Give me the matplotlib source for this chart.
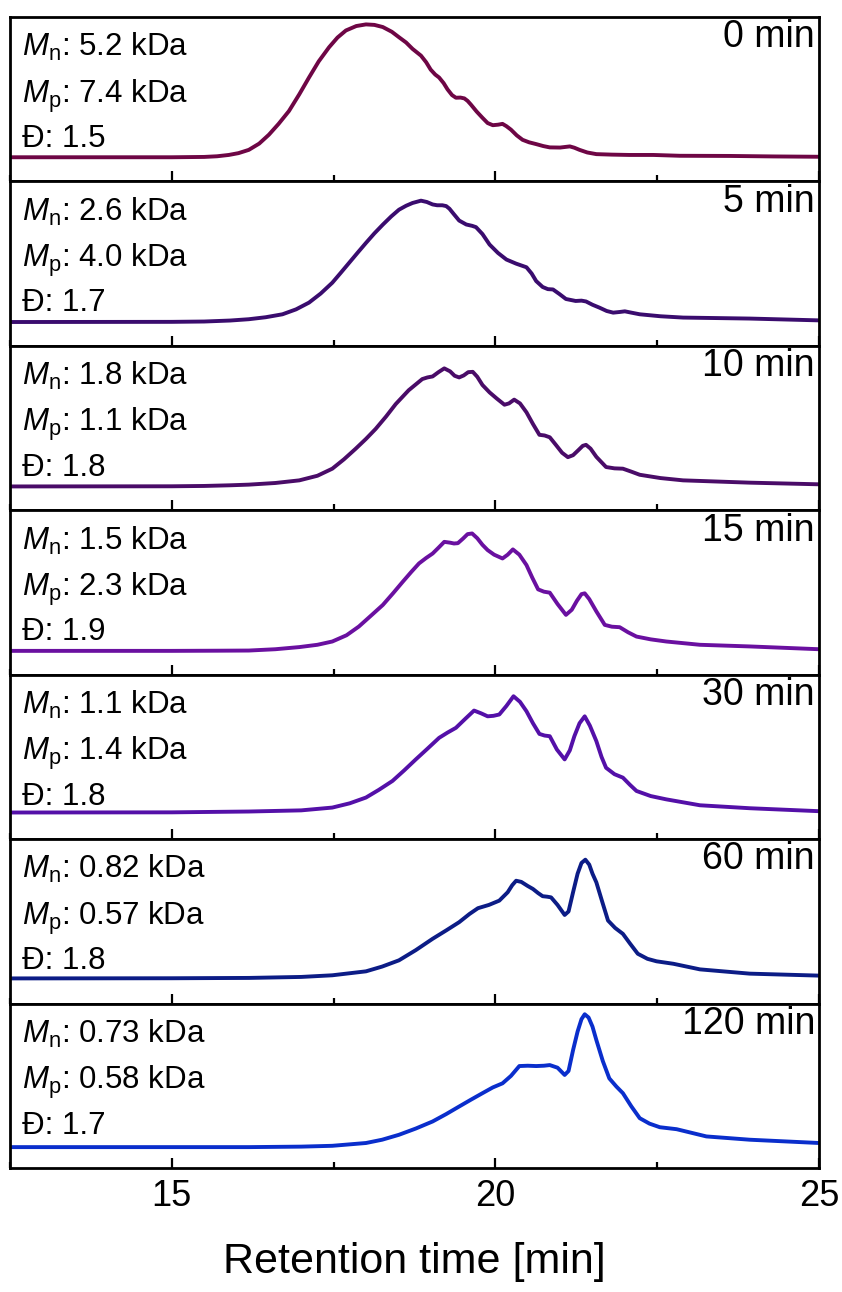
import matplotlib
matplotlib.use("Agg")
import matplotlib.pyplot as plt
from matplotlib.ticker import MultipleLocator

plt.rcParams['font.family'] = ['Liberation Sans', 'DejaVu Sans']
plt.rcParams['mathtext.fontset'] = 'custom'
plt.rcParams['mathtext.rm'] = 'Liberation Sans'
plt.rcParams['mathtext.it'] = 'Liberation Sans:italic'

# ---- data (retention time [min], normalized detector signal) ----
labels = ["0 min", "5 min", "10 min", "15 min", "30 min", "60 min", "120 min"]
mn = ["5.2", "2.6", "1.8", "1.5", "1.1", "0.82", "0.73"]
mp = ["7.4", "4.0", "1.1", "2.3", "1.4", "0.57", "0.58"]
dispersity = ["1.5", "1.7", "1.8", "1.9", "1.8", "1.8", "1.7"]
colors = ["#6E0645", "#3A0C6E", "#4A0C68", "#6A10A0", "#5410A8", "#0C1C86", "#0A2ECC"]

t0 = [12.5, 15.0, 15.5, 15.7, 15.88, 16.03, 16.19, 16.35, 16.50, 16.65, 16.81, 16.97, 17.12, 17.27,
      17.43, 17.56, 17.69, 17.85, 18.00, 18.13, 18.26, 18.40, 18.51, 18.62, 18.72,
      18.85, 18.93, 19.00, 19.07, 19.13, 19.20, 19.26, 19.33, 19.39, 19.46, 19.52, 19.57, 19.62,
      19.71, 19.80, 19.88, 19.96, 20.04, 20.11, 20.17, 20.24, 20.33, 20.42, 20.52,
      20.63, 20.74, 20.84, 21.00, 21.15, 21.22, 21.30, 21.42, 21.56, 21.80, 22.07, 22.44, 22.85,
      23.62, 24.3, 25.0]
s0 = [0.147, 0.147, 0.149, 0.153, 0.161, 0.172, 0.192, 0.230, 0.284, 0.350, 0.428, 0.530, 0.632, 0.730,
      0.816, 0.875, 0.918, 0.945, 0.955, 0.952, 0.939, 0.910, 0.877, 0.845, 0.806,
      0.765, 0.725, 0.680, 0.650, 0.632, 0.598, 0.560, 0.525, 0.509, 0.510, 0.505, 0.490, 0.468,
      0.425, 0.387, 0.355, 0.342, 0.345, 0.350, 0.336, 0.315, 0.280, 0.253, 0.238,
      0.227, 0.215, 0.207, 0.206, 0.213, 0.205, 0.192, 0.176, 0.166, 0.163, 0.161, 0.161, 0.156,
      0.155, 0.152, 0.150]

t5 = [12.5, 15.0, 15.5, 15.9, 16.19, 16.45, 16.71, 16.92, 17.12, 17.30, 17.48, 17.61, 17.74, 17.87,
      18.00, 18.13, 18.26, 18.39, 18.51, 18.62, 18.72, 18.85, 18.94, 19.03,
      19.10, 19.18, 19.24, 19.29, 19.36, 19.44, 19.55, 19.64, 19.70, 19.80, 19.91, 20.04, 20.17,
      20.32, 20.48, 20.56, 20.63, 20.73, 20.81, 20.89, 20.99, 21.09, 21.24, 21.33, 21.40,
      21.50, 21.61, 21.72, 21.82, 21.92, 22.00, 22.10, 22.23, 22.55, 22.90, 23.93, 25.0]
s5 = [0.145, 0.146, 0.148, 0.154, 0.162, 0.174, 0.192, 0.222, 0.263, 0.318, 0.384, 0.444, 0.505, 0.566,
      0.626, 0.684, 0.737, 0.787, 0.828, 0.852, 0.869, 0.883, 0.875, 0.860,
      0.855, 0.855, 0.850, 0.834, 0.800, 0.762, 0.738, 0.730, 0.722, 0.680, 0.616, 0.565, 0.525,
      0.500, 0.478, 0.440, 0.394, 0.358, 0.345, 0.343, 0.315, 0.285, 0.273, 0.275, 0.270,
      0.250, 0.232, 0.212, 0.202, 0.206, 0.210, 0.202, 0.192, 0.180, 0.172, 0.166, 0.155]

t10 = [12.5, 15.0, 15.5, 15.9, 16.19, 16.6, 16.97, 17.25, 17.48, 17.66, 17.84, 18.00, 18.15, 18.31,
       18.46, 18.66, 18.87, 18.95, 19.03, 19.12, 19.21, 19.30, 19.37, 19.44, 19.51, 19.58,
       19.65, 19.72, 19.80, 19.91, 20.02, 20.14, 20.21, 20.29, 20.38, 20.48, 20.58,
       20.68, 20.76, 20.84, 20.94, 21.03, 21.12, 21.20, 21.28, 21.35, 21.40, 21.47, 21.56,
       21.71, 21.84, 21.97, 22.10, 22.23, 22.55, 22.90, 23.93, 25.0]
s10 = [0.145, 0.146, 0.148, 0.152, 0.156, 0.166, 0.182, 0.210, 0.253, 0.310, 0.374, 0.434, 0.495, 0.570,
       0.646, 0.730, 0.798, 0.808, 0.814, 0.840, 0.863, 0.845, 0.818, 0.808, 0.820, 0.840,
       0.842, 0.812, 0.762, 0.717, 0.680, 0.642, 0.650, 0.673, 0.650, 0.596, 0.525,
       0.459, 0.455, 0.444, 0.395, 0.350, 0.323, 0.335, 0.365, 0.392, 0.398, 0.375, 0.325,
       0.263, 0.255, 0.253, 0.235, 0.216, 0.196, 0.182, 0.168, 0.158]

t15 = [12.5, 15.0, 15.7, 16.19, 16.6, 16.97, 17.25, 17.48, 17.70, 17.89, 18.08, 18.26, 18.42, 18.57,
       18.70, 18.82, 18.93, 19.03, 19.12, 19.21, 19.30, 19.36, 19.42, 19.50, 19.57, 19.64,
       19.72, 19.80, 19.88, 19.98, 20.11, 20.19, 20.27, 20.37, 20.48, 20.57, 20.66, 20.75,
       20.84, 20.96, 21.09, 21.18, 21.26, 21.33, 21.38, 21.45, 21.56, 21.69, 21.80, 21.92,
       22.05, 22.18, 22.40, 22.64, 23.16, 23.93, 25.0]
s15 = [0.145, 0.145, 0.146, 0.147, 0.155, 0.168, 0.182, 0.202, 0.240, 0.293, 0.360, 0.424, 0.496, 0.566,
       0.625, 0.677, 0.710, 0.737, 0.772, 0.808, 0.803, 0.798, 0.800, 0.828, 0.855, 0.859,
       0.830, 0.790, 0.758, 0.730, 0.707, 0.730, 0.762, 0.730, 0.667, 0.590, 0.519, 0.505,
       0.499, 0.430, 0.364, 0.395, 0.450, 0.490, 0.495, 0.460, 0.385, 0.303, 0.292, 0.289,
       0.258, 0.232, 0.215, 0.202, 0.182, 0.172, 0.155]

t30 = [12.5, 15.0, 16.19, 17.0, 17.48, 17.75, 18.00, 18.20, 18.41, 18.59, 18.77, 18.95, 19.13, 19.26,
       19.39, 19.53, 19.67, 19.78, 19.88, 19.97, 20.06, 20.17, 20.28, 20.38, 20.48,
       20.58, 20.68, 20.76, 20.84, 20.95, 21.07, 21.15, 21.22, 21.30, 21.38, 21.46, 21.56,
       21.64, 21.71, 21.84, 21.97, 22.08, 22.18, 22.40, 22.64, 23.16, 23.93, 25.0]
s30 = [0.162, 0.163, 0.168, 0.175, 0.192, 0.218, 0.253, 0.300, 0.354, 0.418, 0.485, 0.550, 0.616, 0.648,
       0.677, 0.730, 0.782, 0.765, 0.747, 0.750, 0.758, 0.810, 0.869, 0.835, 0.778,
       0.705, 0.640, 0.630, 0.626, 0.545, 0.485, 0.540, 0.626, 0.705, 0.747, 0.690, 0.596,
       0.500, 0.434, 0.395, 0.374, 0.330, 0.293, 0.262, 0.242, 0.206, 0.188, 0.170]

t60 = [12.5, 15.0, 16.19, 17.0, 17.48, 18.00, 18.25, 18.51, 18.77, 19.03, 19.24, 19.44, 19.60, 19.73,
       19.90, 20.06, 20.19, 20.26, 20.32, 20.40, 20.50, 20.58, 20.66, 20.73, 20.80, 20.86,
       20.96, 21.07, 21.13, 21.20, 21.27, 21.33, 21.39, 21.45, 21.50, 21.56, 21.65, 21.74,
       21.85, 21.97, 22.08, 22.20, 22.35, 22.49, 22.75, 23.16, 23.93, 25.0]
s60 = [0.153, 0.154, 0.156, 0.162, 0.172, 0.196, 0.225, 0.263, 0.325, 0.394, 0.445, 0.495, 0.545, 0.580,
       0.600, 0.626, 0.677, 0.720, 0.747, 0.740, 0.715, 0.697, 0.672, 0.653, 0.650, 0.646,
       0.600, 0.539, 0.560, 0.677, 0.790, 0.855, 0.875, 0.845, 0.790, 0.737, 0.620, 0.505,
       0.460, 0.424, 0.365, 0.303, 0.272, 0.257, 0.242, 0.208, 0.182, 0.170]

t120 = [12.5, 15.0, 16.19, 17.0, 17.48, 18.00, 18.25, 18.51, 18.77, 19.03, 19.24, 19.44, 19.62, 19.80,
        19.96, 20.11, 20.24, 20.37, 20.50, 20.63, 20.75, 20.84, 20.96, 21.07, 21.13, 21.20,
        21.27, 21.33, 21.38, 21.44, 21.50, 21.56, 21.66, 21.76, 21.87, 21.97, 22.10, 22.23,
        22.38, 22.54, 22.80, 23.26, 23.93, 25.0]
s120 = [0.127, 0.127, 0.127, 0.130, 0.135, 0.152, 0.172, 0.202, 0.240, 0.283, 0.328, 0.374, 0.415, 0.455,
        0.490, 0.515, 0.560, 0.620, 0.622, 0.620, 0.622, 0.626, 0.610, 0.566, 0.590, 0.717,
        0.830, 0.905, 0.935, 0.915, 0.860, 0.778, 0.650, 0.545, 0.495, 0.455, 0.375, 0.303,
        0.270, 0.248, 0.236, 0.192, 0.172, 0.152]

times = [t0, t5, t10, t15, t30, t60, t120]
signals = [s0, s5, s10, s15, s30, s60, s120]

fig = plt.figure(figsize=(8.42, 12.92), dpi=100)
n = len(labels)
axes = fig.subplots(n, 1, sharex=True,
                    gridspec_kw=dict(left=10/842, right=819/842, top=1-17/1292, bottom=1-1168/1292, hspace=0))

for i, ax in enumerate(axes):
    ax.plot(times[i], signals[i], color=colors[i], lw=2.8, solid_joinstyle='round', solid_capstyle='round')
    ax.set_xlim(12.5, 25)
    ax.set_ylim(0, 1)
    ax.set_yticks([])
    for sp in ax.spines.values():
        sp.set_linewidth(2.0)
    ax.xaxis.set_major_locator(MultipleLocator(5))
    ax.xaxis.set_minor_locator(MultipleLocator(2.5))
    ax.tick_params(axis='x', which='major', direction='in', length=7, width=1.6,
                   top=False, bottom=True, labelsize=26, pad=8)
    ax.tick_params(axis='x', which='minor', direction='in', length=4, width=1.6,
                   top=False, bottom=True)
    if i < n - 1:
        ax.tick_params(axis='x', labelbottom=False)
    ax.text(0.015, 0.816, rf"$M_\mathrm{{n}}$: {mn[i]} kDa", transform=ax.transAxes,
            fontsize=22.5, ha='left', va='center')
    ax.text(0.015, 0.52, rf"$M_\mathrm{{p}}$: {mp[i]} kDa", transform=ax.transAxes,
            fontsize=22.5, ha='left', va='center')
    ax.text(0.015, 0.258, f"Đ: {dispersity[i]}", transform=ax.transAxes,
            fontsize=22.5, ha='left', va='center')
    ax.text(0.995, 0.877, labels[i], transform=ax.transAxes,
            fontsize=27, ha='right', va='center')

axes[-1].set_xlabel("Retention time [min]", fontsize=31, labelpad=20)

fig.savefig("out.png", dpi=100)
